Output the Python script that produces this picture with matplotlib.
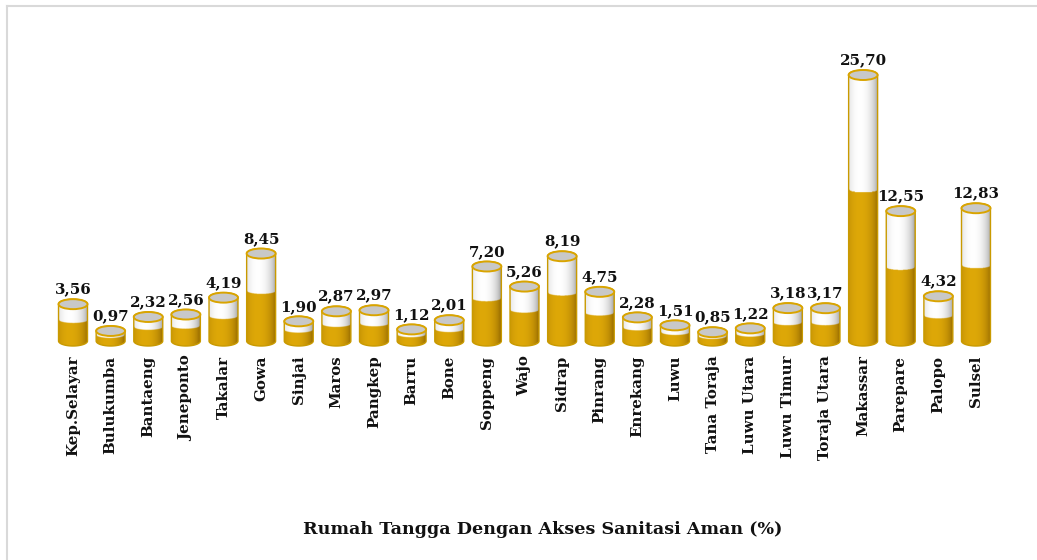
import numpy as np
import matplotlib
matplotlib.use("Agg")
import matplotlib.pyplot as plt
from matplotlib.path import Path
from matplotlib.patches import PathPatch, Ellipse
from matplotlib.lines import Line2D

categories = ["Kep.Selayar", "Bulukumba", "Bantaeng", "Jeneponto", "Takalar", "Gowa",
              "Sinjai", "Maros", "Pangkep", "Barru", "Bone", "Soppeng", "Wajo", "Sidrap",
              "Pinrang", "Enrekang", "Luwu", "Tana Toraja", "Luwu Utara", "Luwu Timur",
              "Toraja Utara", "Makassar", "Parepare", "Palopo", "Sulsel"]
values = [3.56, 0.97, 2.32, 2.56, 4.19, 8.45, 1.90, 2.87, 2.97, 1.12, 2.01, 7.20, 5.26,
          8.19, 4.75, 2.28, 1.51, 0.85, 1.22, 3.18, 3.17, 25.70, 12.55, 4.32, 12.83]
xlabel = "Rumah Tangga Dengan Akses Sanitasi Aman (%)"

FONT = "DejaVu Serif"
W, H = 1037, 560
fig = plt.figure(figsize=(W / 100, H / 100), dpi=100)
fig.patch.set_facecolor("white")

ppu = 10.35  # pixels per data unit
ymin, ymax = -1.0, 30.0
y0_px = 341
top_px = y0_px - ymax * ppu
bot_px = y0_px - ymin * ppu
ax = fig.add_axes([54.2 / W, 1 - bot_px / H, (994.8 - 54.2) / W, (bot_px - top_px) / H])
ax.set_xlim(-0.5, len(categories) - 0.5)
ax.set_ylim(ymin, ymax)
for s in ax.spines.values():
    s.set_visible(False)
ax.set_yticks([])
ax.set_facecolor("none")

w = 0.77          # cylinder width (data units)
eh = 10.0 / ppu   # ellipse height (data units)
split = 0.57

gold = np.array([222, 168, 8]) / 255.0
gold_dark = np.array([140, 98, 0]) / 255.0
white = np.array([255, 255, 255]) / 255.0
white_dark = np.array([150, 150, 150]) / 255.0

ncol, nrow = 80, 400
t = np.linspace(-1, 1, ncol)
shade = np.clip(1 - ((t + 0.25) / 1.25) ** 2, 0, 1) ** 0.6  # 1 at highlight, 0 at edges

for i, v in enumerate(values):
    left, right = i - w / 2, i + w / 2
    th_b = np.linspace(np.pi, 2 * np.pi, 60)
    bx = i + (w / 2) * np.cos(th_b)
    by = 0 + (eh / 2) * np.sin(th_b)
    verts = [(left, v)] + list(zip(bx, by)) + [(right, v)]
    th_t = np.linspace(0, np.pi, 60)
    verts += list(zip(i + (w / 2) * np.cos(th_t), v + (eh / 2) * np.sin(th_t)))
    verts.append((left, v))
    path = Path(verts, closed=True)
    patch = PathPatch(path, facecolor="none", edgecolor="none")
    ax.add_patch(patch)

    ylo, yhi = -eh / 2, v + eh / 2
    ys = np.linspace(yhi, ylo, nrow)[:, None]
    sv = split * v
    boundary = sv - (eh * 0.3) * np.sqrt(np.clip(1 - t ** 2, 0, 1))[None, :]
    is_gold = ys < boundary
    img_gold = gold_dark + (gold - gold_dark) * shade[None, :, None]
    img_white = white_dark + (white - white_dark) * shade[None, :, None]
    img = np.where(is_gold[:, :, None], np.broadcast_to(img_gold, (nrow, ncol, 3)),
                   np.broadcast_to(img_white, (nrow, ncol, 3)))
    im = ax.imshow(img, extent=(left, right, ylo, yhi), aspect="auto",
                   interpolation="bilinear", zorder=2)
    im.set_clip_path(patch)

    outline = PathPatch(path, facecolor="none", edgecolor="#c99a00", lw=1.0, zorder=3)
    ax.add_patch(outline)
    top = Ellipse((i, v), w, eh, facecolor="#c8c8c8", edgecolor="#d9a400", lw=1.4, zorder=4)
    ax.add_patch(top)

    ax.annotate(f"{v:.2f}".replace(".", ","), xy=(i, v), xytext=(0, 5.5),
                textcoords="offset points", ha="center", va="bottom",
                fontsize=10.8, fontweight="bold", family=FONT, color="#111111",
                zorder=5, annotation_clip=False)

ax.set_xlim(-0.5, len(categories) - 0.5)
ax.set_ylim(ymin, ymax)
ax.set_xticks(range(len(categories)))
ax.set_xticklabels(categories, rotation=90, fontsize=10.8, fontweight="bold",
                   family=FONT, color="#111111")
ax.tick_params(axis="x", length=0, pad=3)

fig.text(543 / W, 1 - 530 / H, xlabel, ha="center", va="center", fontsize=12.6,
         fontweight="bold", family=FONT, color="#111111")

# outer frame (partial, as in reference)
fig.add_artist(Line2D([6.5 / W, 1.0], [1 - 5.5 / H, 1 - 5.5 / H], color="#d9d9d9", lw=1.5,
                      transform=fig.transFigure))
fig.add_artist(Line2D([6.5 / W, 6.5 / W], [1 - 5.5 / H, 0], color="#d9d9d9", lw=1.5,
                      transform=fig.transFigure))

fig.savefig("out.png", dpi=100, facecolor="white")
